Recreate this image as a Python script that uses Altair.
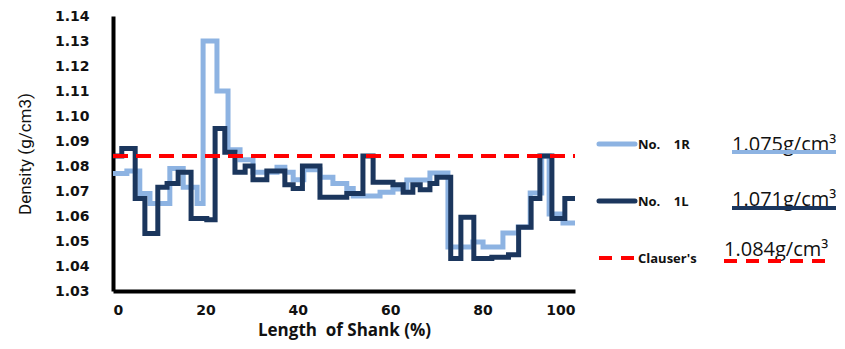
import altair as alt
import pandas as pd

# 1R (light blue) step breakpoints
x_1R = [0, 3.0, 5.8, 8.0, 12.3, 15.2, 18.2, 19.5, 22.5, 24.9, 27.5, 30.3, 35.5, 37.2, 39.0, 41.3,
        44.8, 47.6, 50.6, 52.0, 57.8, 60.6, 63.6, 68.6, 72.5, 77.9, 80.1, 84.4, 87.7, 90.3, 92.8,
        94.4, 97.4, 100]
y_1R = [1.077, 1.078, 1.069, 1.065, 1.079, 1.0715, 1.065, 1.130, 1.110, 1.0865, 1.0825, 1.0775,
        1.0795, 1.0775, 1.0745, 1.0785, 1.0755, 1.073, 1.071, 1.068, 1.0695, 1.0708, 1.0744,
        1.0772, 1.0476, 1.0496, 1.0476, 1.0532, 1.0556, 1.0692, 1.084, 1.0608, 1.0572, 1.0572]

# 1L (dark navy) step breakpoints
x_1L = [0, 1.9, 4.8, 6.9, 9.7, 11.7, 14.1, 16.9, 20.3, 22.1, 24.2, 26.4, 28.6, 30.3, 33.3, 37.2,
        39.0, 41.0, 44.8, 50.6, 54.1, 56.3, 60.6, 62.8, 64.9, 66.5, 68.6, 70.1, 73.1, 75.3, 78.1,
        82.0, 85.6, 87.8, 90.5, 92.4, 95.0, 97.8, 100]
y_1L = [1.084, 1.087, 1.067, 1.053, 1.0715, 1.073, 1.0775, 1.059, 1.0585, 1.095, 1.0855, 1.0775,
        1.080, 1.0745, 1.078, 1.0725, 1.071, 1.080, 1.0675, 1.069, 1.084, 1.0735, 1.0725, 1.0695,
        1.0725, 1.0705, 1.073, 1.0755, 1.043, 1.0595, 1.043, 1.0435, 1.0445, 1.0555, 1.067, 1.084,
        1.059, 1.067, 1.067]

clauser_value = 1.084
NB = "\u00a0"
series_names = ["No." + NB * 4 + "1R", "No." + NB * 4 + "1L", "Clauser's"]
series_values = ["1.075g/cm\u00b3", "1.071g/cm\u00b3", "1.084g/cm\u00b3"]
y_ticks = [1.03, 1.04, 1.05, 1.06, 1.07, 1.08, 1.09, 1.10, 1.11, 1.12, 1.13, 1.14]
x_ticks = [0, 20, 40, 60, 80, 100]

LIGHT = "#8DB3E2"
DARK = "#1B365D"
RED = "#FF0000"

df_r = pd.DataFrame({"x": x_1R, "y": y_1R})
df_l = pd.DataFrame({"x": x_1L, "y": y_1L})
one = pd.DataFrame({"a": [0]})

x_axis = alt.Axis(values=x_ticks, tickCount=len(x_ticks), title="Length" + NB + NB + "of Shank (%)",
                  labelPadding=12, titlePadding=5, labelOverlap=False)
y_axis = alt.Axis(values=y_ticks, tickCount=len(y_ticks), format=".2f", labelOverlap=False,
                  title="Density (g/cm3)", labelPadding=24, titlePadding=20)
x_scale = alt.Scale(domain=[0, 100], nice=False)
y_scale = alt.Scale(domain=[1.03, 1.14], nice=False, zero=False)


def enc_x():
    return alt.X("x:Q", scale=x_scale, axis=x_axis)


def enc_y():
    return alt.Y("y:Q", scale=y_scale, axis=y_axis)


light = alt.Chart(df_r).mark_line(interpolate="step-after", color=LIGHT, strokeWidth=5).encode(
    x=enc_x(), y=enc_y())
dark = alt.Chart(df_l).mark_line(interpolate="step-after", color=DARK, strokeWidth=5).encode(
    x=enc_x(), y=enc_y())
red = alt.Chart(one).mark_rule(color=RED, strokeWidth=4, strokeDash=[15, 8]).encode(
    x=alt.datum(0), x2=alt.datum(100), y=alt.datum(clauser_value))

layers = [light, dark, red]

# legend (pixel positions relative to plot area)
sym_y = [128, 185, 242]
val_y = [135, 190, 240]
und_y = [136, 192, 245]
val_x = [619, 619, 611]
colors = [LIGHT, DARK, RED]
for i in range(3):
    dash = [13, 9] if i == 2 else [1, 0]
    cap = "butt" if i == 2 else "round"
    layers.append(alt.Chart(one).mark_rule(color=colors[i], strokeWidth=5 if i < 2 else 4,
                                           strokeDash=dash, strokeCap=cap).encode(
        x=alt.value(486), x2=alt.value(522), y=alt.value(sym_y[i])))
    layers.append(alt.Chart(one).mark_text(align="left", baseline="middle", font="Open Sans",
                                           fontWeight="bold", fontSize=13, color="#111111").encode(
        x=alt.value(525), y=alt.value(sym_y[i] + 1), text=alt.value(series_names[i])))
    layers.append(alt.Chart(one).mark_text(align="left", baseline="alphabetic", font="Open Sans",
                                           fontSize=20, color="#111111").encode(
        x=alt.value(val_x[i]), y=alt.value(val_y[i]), text=alt.value(series_values[i])))
    layers.append(alt.Chart(one).mark_rule(color=colors[i], strokeWidth=4, strokeDash=dash).encode(
        x=alt.value(val_x[i]), x2=alt.value(val_x[i] + 104), y=alt.value(und_y[i])))

chart = alt.layer(*layers).properties(
    width=462, height=275,
    autosize=alt.AutoSizeParams(type="none"),
    padding={"left": 105, "top": 8, "right": 262, "bottom": 50},
).configure_view(stroke=None).configure_axis(
    grid=False, ticks=False, domainColor="black", domainWidth=4, labelOverlap=False,
    labelColor="#111111", titleColor="#111111",
).configure_axisY(
    labelFont="DejaVu Sans", labelFontWeight="bold", labelFontSize=14,
    titleFont="Roboto", titleFontWeight="normal", titleFontSize=17,
).configure_axisX(
    labelFont="DejaVu Sans", labelFontWeight="bold", labelFontSize=14,
    titleFont="Open Sans", titleFontWeight="bold", titleFontSize=17,
)

chart.save("out.html", embed_options={"renderer": "svg", "actions": False})
